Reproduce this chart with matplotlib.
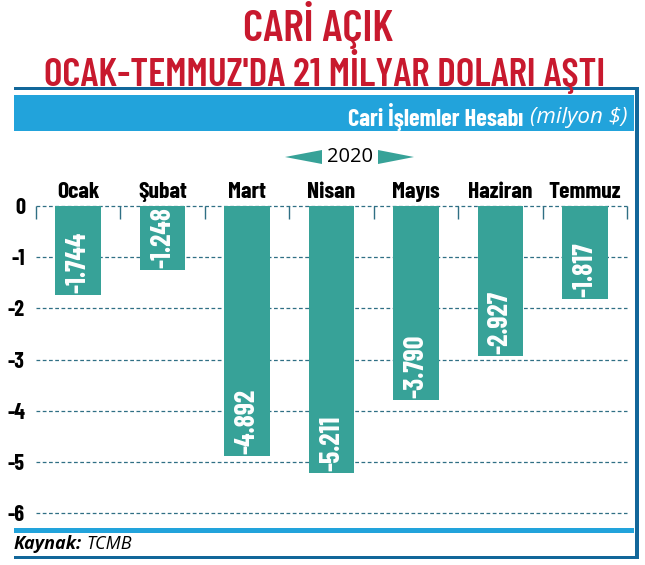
import matplotlib
matplotlib.use('Agg')
import matplotlib.pyplot as plt
from matplotlib.patches import Rectangle, Polygon

months = ['Ocak', 'Şubat', 'Mart', 'Nisan', 'Mayıs', 'Haziran', 'Temmuz']
values = [-1.744, -1.248, -4.892, -5.211, -3.790, -2.927, -1.817]
value_labels = ['-1.744', '-1.248', '-4.892', '-5.211', '-3.790', '-2.927', '-1.817']
yticks = [0, -1, -2, -3, -4, -5, -6]
year = '2020'

RED = '#c8192e'
TEAL = '#37a298'
LBLUE = '#22a3db'
DBLUE = '#12679a'
GRID = '#2f6f84'
COND = ['Barlow Condensed', 'Roboto Condensed', 'DejaVu Sans']
PLAIN = ['Open Sans', 'DejaVu Sans']

W, H = 645, 565
fig = plt.figure(figsize=(W / 100, H / 100), dpi=100)

def px(x, y):
	return x / W, 1 - y / H

def rect(x0, y0, x1, y1, color):
	fig.add_artist(Rectangle((x0 / W, 1 - y1 / H), (x1 - x0) / W, (y1 - y0) / H,
		transform=fig.transFigure, color=color, lw=0))

def fit(t, width):
	# scale font so the text gets the wanted pixel width
	fig.canvas.draw()
	w = t.get_window_extent().width
	t.set_fontsize(t.get_fontsize() * width / w)

# frame
rect(14, 87, 639, 90, DBLUE)
rect(14, 95, 634, 131, LBLUE)
rect(635, 87, 639, 559, DBLUE)
rect(14, 528, 634, 533, LBLUE)
rect(14, 556, 639, 559, DBLUE)

# titles
t1 = fig.text(*px(318, 41), 'CARİ AÇIK', color=RED, family=COND, weight='semibold',
	fontsize=29, ha='center', va='baseline')
t2 = fig.text(*px(325, 86), "OCAK-TEMMUZ'DA 21 MİLYAR DOLARI AŞTI", color=RED, family=COND,
	weight='semibold', fontsize=29, ha='center', va='baseline')
fit(t1, 150)
fit(t2, 561)

t = fig.text(*px(628, 117), '(milyon $)', color='white', family=PLAIN,
	style='italic', fontsize=13, ha='right', va='center')
fit(t, 97)
fig.canvas.draw()
bb = t.get_window_extent()
h = fig.text(bb.x0 / W - 7 / W, 1 - 117 / H, 'Cari İşlemler Hesabı', color='white', family=COND,
	weight='bold', fontsize=15, ha='right', va='center')
fit(h, 175)

# year with arrows
fig.text(*px(350, 157), year, color='black', family=PLAIN, fontsize=14.5,
	ha='center', va='center')
for pts in ([(285, 157), (322, 150), (322, 164)], [(414, 157), (378, 150), (378, 164)]):
	fig.add_artist(Polygon([px(a, b) for a, b in pts], closed=True, color=TEAL,
		transform=fig.transFigure, lw=0))

# chart
l, r = 36 / W, 627 / W
b, tp = 1 - 513 / H, 1 - 206 / H
ax = fig.add_axes([l, b, r - l, tp - b])
x = list(range(len(months)))
ax.bar(x, values, width=0.54, color=TEAL, zorder=3)
ax.set_xlim(-0.5, len(months) - 0.5)
ax.set_ylim(-6, 0)
for v in yticks:
	ax.axhline(v, color=GRID, lw=0.9, ls=(0, (3, 2)), zorder=1, clip_on=False)
for s in ax.spines.values():
	s.set_visible(False)
ax.set_yticks(yticks)
ax.set_yticklabels([str(v) for v in yticks], family=COND, weight='bold', fontsize=16)
ax.tick_params(axis='y', length=0, pad=8)
ax.set_xticks(x)
ax.set_xticklabels(months, family=COND, weight='bold', fontsize=17)
ax.tick_params(axis='x', top=True, bottom=False, labeltop=True, labelbottom=False,
	length=0, pad=3)
ax.set_xticks([i - 0.5 for i in range(len(months) + 1)], minor=True)
ax.tick_params(axis='x', which='minor', top=True, bottom=False, direction='in',
	length=9, width=1, color=GRID)

# value labels sit at the end of each bar, reading upwards
for xi, v, lab in zip(x, values, value_labels):
	ax.text(xi, v + 0.04, lab, rotation=90, color='white', family=COND, weight='bold',
		fontsize=20, ha='center', va='bottom', zorder=4)

# source
k = fig.text(*px(14, 544), 'Kaynak:', family=PLAIN, weight='bold', style='italic',
	fontsize=10, ha='left', va='center')
fit(k, 68)
fig.canvas.draw()
kb = k.get_window_extent()
tc = fig.text(kb.x1 / W + 4 / W, 1 - 544 / H, 'TCMB', family=PLAIN, style='italic',
	fontsize=k.get_fontsize(), ha='left', va='center')

fig.savefig('out.png', dpi=100)
